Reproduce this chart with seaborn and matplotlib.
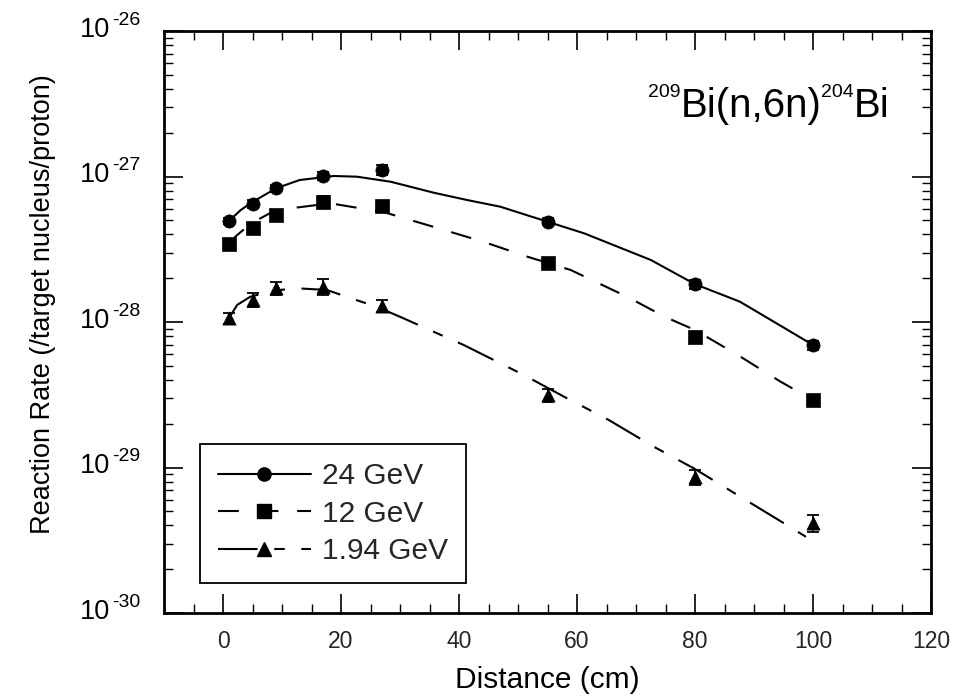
import numpy as np
import pandas as pd
import matplotlib
matplotlib.use("Agg")
import matplotlib.pyplot as plt
import seaborn as sns
from matplotlib.lines import Line2D
from matplotlib.ticker import MultipleLocator, LogLocator, NullFormatter

# ---- measured reaction rates (per target nucleus per proton) ----
distance = [1, 5, 9, 17, 27, 55, 80, 100]
rate_24 = [4.94e-28, 6.5e-28, 8.3e-28, 1.01e-27, 1.11e-27, 4.9e-28, 1.82e-28, 6.95e-29]
rate_12 = [3.44e-28, 4.45e-28, 5.44e-28, 6.7e-28, 6.27e-28, 2.54e-28, 7.9e-29, 2.9e-29]
rate_194 = [1.06e-28, 1.42e-28, 1.71e-28, 1.75e-28, 1.29e-28, 3.15e-29, 8.65e-30, 4.16e-30]

# relative uncertainties of the measurements
relerr_24 = [0.05, 0.06, 0.06, 0.06, 0.08, 0.06, 0.07, 0.07]
relerr_12 = [0.08, 0.08, 0.09, 0.10, 0.09, 0.08, 0.08, 0.09]
relerr_194 = [0.09, 0.11, 0.11, 0.12, 0.09, 0.10, 0.12, 0.13]

# ---- fitted curves ----
fit24_x = [1, 3, 5, 9, 13, 18.8, 22.7, 28.4, 35.7, 41.4, 47, 55, 61.2, 72.5, 80, 87.6, 92.9, 100]
fit24_y = [4.94e-28, 5.88e-28, 6.68e-28, 8.3e-28, 9.46e-28, 1.008e-27, 9.97e-28, 9.21e-28,
           7.74e-28, 6.89e-28, 6.2e-28, 4.89e-28, 4.07e-28, 2.67e-28, 1.82e-28, 1.38e-28,
           1.03e-28, 6.95e-29]

fit12_x = [1, 2.1, 4.6, 8, 11.4, 18.2, 22.7, 27.2, 31.2, 36.9, 44.2, 51.6, 58.9, 68.5, 75, 80,
           87.7, 94.5, 100]
fit12_y = [3.44e-28, 3.86e-28, 4.72e-28, 5.61e-28, 6.04e-28, 6.54e-28, 6.1e-28, 5.7e-28, 5.1e-28,
           4.36e-28, 3.55e-28, 2.81e-28, 2.28e-28, 1.49e-28, 1.08e-28, 8.81e-29, 5.78e-29,
           3.89e-29, 2.91e-29]

fit194_x = [1, 2.4, 4.6, 8, 12, 17.6, 21.6, 26.1, 30.6, 36.3, 40.8, 44.2, 51, 58.3, 65.4, 73,
            79.8, 87.7, 94.2, 98.8]
fit194_y = [1.06e-28, 1.31e-28, 1.49e-28, 1.62e-28, 1.71e-28, 1.66e-28, 1.46e-28, 1.27e-28,
            1.06e-28, 8.36e-29, 6.95e-29, 5.93e-29, 4.32e-29, 2.99e-29, 2.12e-29, 1.39e-29,
            9.87e-30, 6.29e-30, 4.35e-30, 3.34e-30]

labels = ["24 GeV", "12 GeV", "1.94 GeV"]
decades = [-30, -29, -28, -27, -26]

# ---- style ----
sns.set_theme(style="ticks")
plt.rcParams["font.family"] = ["Liberation Sans", "DejaVu Sans"]
plt.rcParams["axes.linewidth"] = 2.0

W, H = 956, 700
fig = plt.figure(figsize=(W / 100, H / 100), dpi=100)
ax = fig.add_axes([164 / W, 1 - 613 / H, (931 - 164) / W, (613 - 31) / H])
ax.set_yscale("log")

DASH12 = (0, (10, 9))
DASH194 = (0, (19, 8, 5, 8))
series = [
    (rate_24, relerr_24, fit24_x, fit24_y, "o", "-"),
    (rate_12, relerr_12, fit12_x, fit12_y, "s", DASH12),
    (rate_194, relerr_194, fit194_x, fit194_y, "^", DASH194),
]

for rates, rel, fx, fy, mk, ls in series:
    sns.lineplot(x=fx, y=fy, ax=ax, color="black", lw=1.5, sort=False,
                 estimator=None, linestyle=ls)
    yerr = np.asarray(rates) * np.asarray(rel)
    ax.errorbar(distance, rates, yerr=yerr, fmt="none", ecolor="black",
                elinewidth=1.3, capsize=4.5, capthick=1.3, zorder=3)
    df = pd.DataFrame({"d": distance, "r": rates})
    sns.scatterplot(data=df, x="d", y="r", ax=ax, marker=mk, color="black",
                    s=90, edgecolor="black", linewidth=0.5, zorder=4)

ax.set_xlim(-10, 120)
ax.set_ylim(1e-30, 1e-26)

ax.xaxis.set_major_locator(MultipleLocator(20))
ax.xaxis.set_minor_locator(MultipleLocator(5))
ax.yaxis.set_major_locator(LogLocator(base=10, numticks=10))
ax.yaxis.set_minor_locator(LogLocator(base=10, subs=np.arange(2, 10), numticks=20))
ax.yaxis.set_major_formatter(NullFormatter())
ax.yaxis.set_minor_formatter(NullFormatter())

ax.tick_params(which="both", direction="in", top=True, right=True, color="black")
ax.tick_params(which="major", length=13.5, width=1.2, labelsize=16.5, pad=12.5)
ax.tick_params(which="minor", length=6.5, width=1.0)
for sp in ax.spines.values():
    sp.set_color("black")

# decade labels as 10 with a raised exponent
for e in decades:
    ax.annotate("10", xy=(0, 10.0 ** e), xycoords=("axes fraction", "data"),
                xytext=(-39, 1), textcoords="offset points", ha="right", va="center",
                fontsize=19.5, color="black")
    ax.annotate("-%d" % (-e), xy=(0, 10.0 ** e), xycoords=("axes fraction", "data"),
                xytext=(-37.5, 4.5), textcoords="offset points", ha="left", va="baseline",
                fontsize=14, color="black")

ax.set_xlabel("Distance (cm)", fontsize=21.5, labelpad=9, color="black")
ax.set_ylabel("Reaction Rate (/target nucleus/proton)", fontsize=19.5, color="black")
ax.yaxis.set_label_coords(-0.141, 0.53)

# reaction label with superscript mass numbers
renderer = fig.canvas.get_renderer()
parts = [("209", 14, 20), ("Bi(n,6n)", 29, 0), ("204", 14, 20), ("Bi", 29, 0)]
off = 0.0
for s, size, rise in parts:
    t = ax.annotate(s, xy=(0.631, 0.853), xycoords="axes fraction",
                    xytext=(off, rise * 0.72), textcoords="offset points",
                    ha="left", va="baseline", fontsize=size, color="black")
    bb = t.get_window_extent(renderer)
    off += bb.width * 72.0 / fig.dpi

handles = [
    Line2D([], [], color="black", lw=1.5, ls="-", marker="o", markersize=9.5),
    Line2D([], [], color="black", lw=1.5, ls=DASH12, marker="s", markersize=9.5),
    Line2D([], [], color="black", lw=1.5, ls=DASH194, marker="^", markersize=9.5),
]
leg = ax.legend(handles, labels, loc="lower left", bbox_to_anchor=(0.047, 0.0515),
                borderaxespad=0, fontsize=21.5, handlelength=3.1, handletextpad=0.4,
                borderpad=0.6, labelspacing=0.32, frameon=True, fancybox=False,
                edgecolor="black", framealpha=1)
leg.get_frame().set_linewidth(1.3)

fig.savefig("out.png", dpi=100, facecolor="white")
